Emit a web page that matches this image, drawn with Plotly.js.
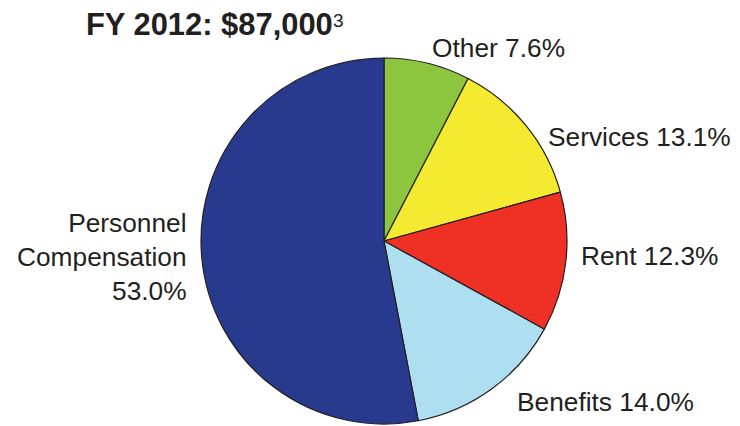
<!DOCTYPE html>
<html>
<head>
<meta charset="utf-8">
<script src="https://cdn.plot.ly/plotly-3.0.1.min.js"></script>
<style>html,body{margin:0;padding:0;background:#fff}#chart{width:740px;height:426px}</style>
</head>
<body>
<div id="chart"></div>
<script>
var categories = ["Other", "Services", "Rent", "Benefits", "Personnel Compensation"];
var labelTexts = ["Other 7.6%", "Services 13.1%", "Rent 12.3%", "Benefits 14.0%", "Personnel<br>Compensation<br>53.0%"];
var values = [7.6, 13.1, 12.3, 14.0, 53.0];
var colors = ["#8CC63F", "#F4EA2F", "#EE3124", "#AEDFF1", "#283A8E"];
var titleText = "FY 2012: $87,000";
var titleNote = "3";

var W = 740, H = 426;
function px(x) { return x / W; }
function py(y) { return 1 - y / H; }

// label anchor positions (pixels) and alignment
var labelPos = [
  {x: 430, y: 48, xa: "left"},
  {x: 546, y: 137, xa: "left"},
  {x: 579, y: 256, xa: "left"},
  {x: 515, y: 402, xa: "left"},
  {x: 189, y: 257, xa: "right"}
];

var font = "Liberation Sans, Arial, sans-serif";
var annotations = labelTexts.map(function (t, i) {
  return {
    text: t, xref: "paper", yref: "paper",
    x: px(labelPos[i].x), y: py(labelPos[i].y),
    xanchor: labelPos[i].xa, yanchor: "middle", align: "right",
    showarrow: false,
    font: {family: font, size: 26.3, color: "#231F20"}
  };
});
annotations.push({
  text: "<b>" + titleText + "</b>", xref: "paper", yref: "paper",
  x: px(84), y: py(24), xanchor: "left", yanchor: "middle", showarrow: false,
  font: {family: font, size: 30.9, color: "#231F20"}
});
annotations.push({
  text: titleNote, xref: "paper", yref: "paper",
  x: px(331), y: py(20), xanchor: "left", yanchor: "middle", showarrow: false,
  font: {family: font, size: 19, color: "#231F20"}
});

var trace = {
  type: "pie",
  labels: categories,
  values: values,
  sort: false,
  direction: "clockwise",
  rotation: 0,
  marker: {colors: colors, line: {color: "#231F20", width: 1.2}},
  textinfo: "none",
  hoverinfo: "label+percent",
  domain: {x: [px(384 - 183), px(384 + 183)], y: [py(424), py(58)]},
  showlegend: false
};

Plotly.newPlot("chart", [trace], {
  width: W, height: H,
  margin: {l: 0, r: 0, t: 0, b: 0},
  paper_bgcolor: "#fff",
  showlegend: false,
  annotations: annotations
}, {displayModeBar: false, staticPlot: true});
</script>
</body>
</html>
